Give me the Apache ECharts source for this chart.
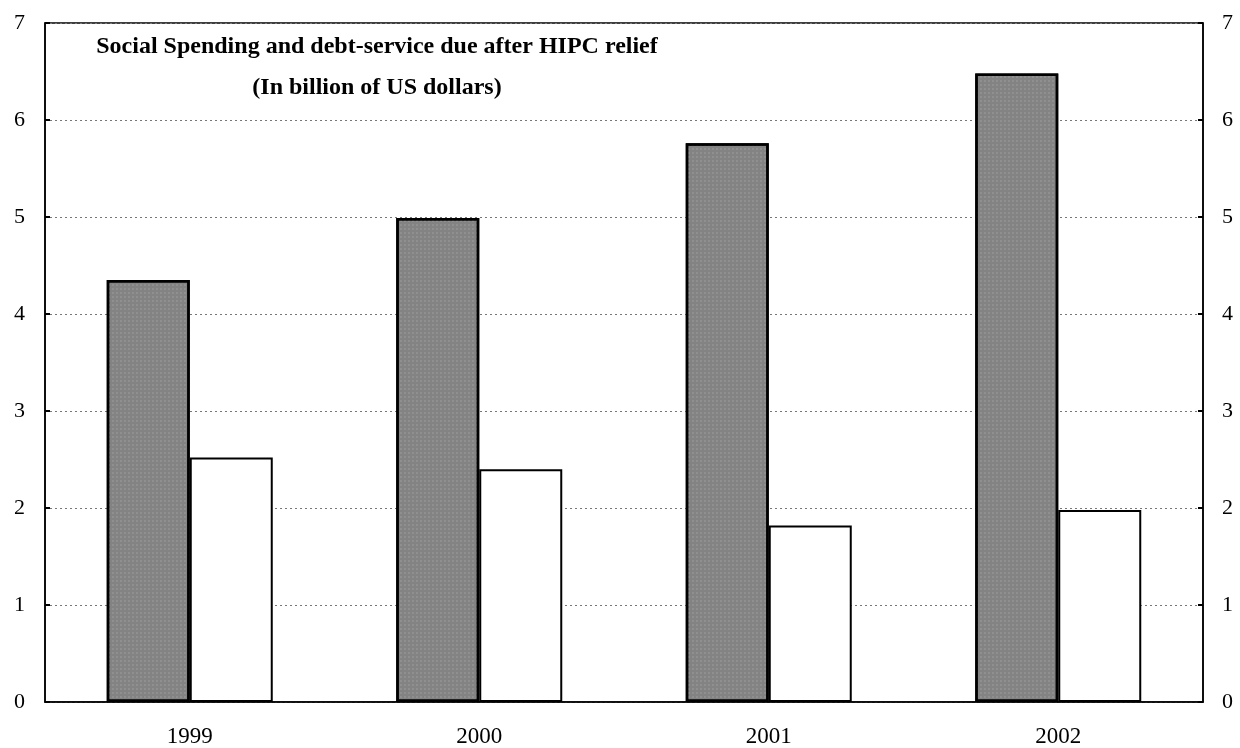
<!DOCTYPE html>
<html>
<head>
<meta charset="utf-8">
<script src="https://cdn.jsdelivr.net/npm/echarts@6/dist/echarts.min.js"></script>
<style>
  html, body { margin: 0; padding: 0; background: #ffffff; }
  #chart { width: 1240px; height: 748px; }
</style>
</head>
<body>
<div id="chart"></div>
<script>
// Years on the category axis
const years = ['1999', '2000', '2001', '2002'];
// Social spending (billion US$)
const socialSpending = [4.35, 4.99, 5.76, 6.48];
// Debt service due after HIPC relief (billion US$)
const debtService = [2.52, 2.40, 1.82, 1.98];
// Value axis ticks
const yTicks = [0, 1, 2, 3, 4, 5, 6, 7];

const serif = '"Liberation Serif", "Times New Roman", serif';

const chart = echarts.init(document.getElementById('chart'), null, { renderer: 'canvas' });

const valueAxis = (pos, showSplit) => ({
  type: 'value',
  position: pos,
  min: yTicks[0],
  max: yTicks[yTicks.length - 1],
  interval: 1,
  axisLine: { show: true, lineStyle: { color: '#000', width: 1.5 } },
  axisTick: { show: true, inside: true, length: 5, lineStyle: { color: '#000', width: 2 } },
  axisLabel: { fontFamily: serif, fontSize: 22, color: '#000', margin: pos === 'left' ? 20 : 19 },
  splitLine: { show: showSplit, lineStyle: { color: '#777', type: [2, 3], width: 1 } }
});

chart.setOption({
  animation: false,
  backgroundColor: '#ffffff',
  title: {
    text: 'Social Spending and debt-service due after HIPC relief\n(In billion of US dollars)',
    left: 372,
    top: 21,
    textAlign: 'center',
    textStyle: { fontFamily: serif, fontWeight: 'bold', fontSize: 24, color: '#000', lineHeight: 41, align: 'center' }
  },
  grid: {
    left: 45, right: 37, top: 23, bottom: 46,
    show: true, borderColor: '#000', borderWidth: 1.5, backgroundColor: 'transparent'
  },
  xAxis: {
    type: 'category',
    data: years,
    axisLine: { lineStyle: { color: '#000', width: 1.5 } },
    axisTick: { show: false },
    axisLabel: { fontFamily: serif, fontSize: 23, color: '#000', margin: 23 }
  },
  yAxis: [valueAxis('left', true), valueAxis('right', false)],
  series: [
    {
      name: 'Social spending',
      type: 'bar',
      data: socialSpending,
      barWidth: 83,
      barGap: '0%',
      itemStyle: {
        color: '#838383',
        borderColor: '#000',
        borderWidth: 2.5,
        decal: {
          symbol: 'rect',
          symbolSize: 0.6,
          dashArrayX: [2, 2],
          dashArrayY: [2, 2],
          color: 'rgba(255,255,255,0.35)',
          rotation: 0
        }
      }
    },
    {
      name: 'Debt service',
      type: 'bar',
      data: debtService,
      barWidth: 83,
      barGap: '0%',
      itemStyle: { color: '#ffffff', borderColor: '#000', borderWidth: 2 }
    }
  ]
});
</script>
</body>
</html>
